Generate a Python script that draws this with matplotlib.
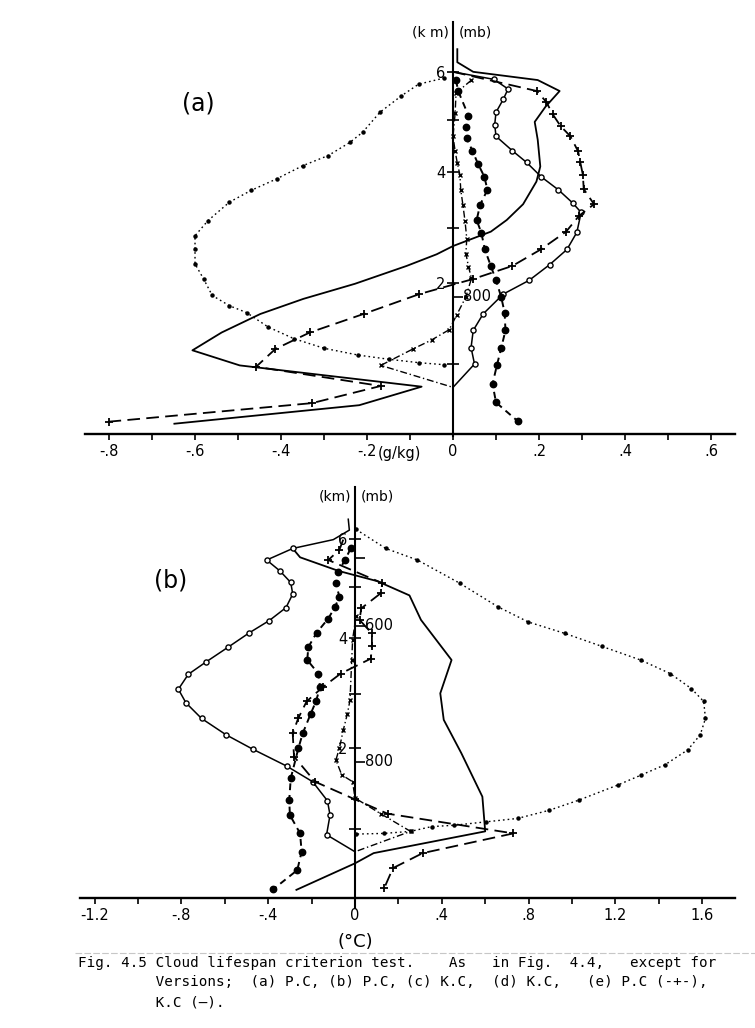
import matplotlib
matplotlib.use('Agg')
import matplotlib.pyplot as plt
from matplotlib.lines import Line2D

W, H = 755, 1028

# ---------------- panel (a): change in moisture (g/kg) against pressure (mb)
a_dot_x = [-0.02, -0.08, -0.12, -0.17, -0.21, -0.24, -0.29, -0.35, -0.41, -0.47, -0.52, -0.57, -0.60,
           -0.60, -0.60, -0.58, -0.56, -0.52, -0.48, -0.43, -0.37, -0.30, -0.22, -0.15, -0.08, -0.02]
a_dot_p = [481, 490, 507, 531, 560, 575, 594, 609, 628, 645, 662, 689, 711,
           730, 752, 774, 798, 813, 823, 844, 861, 875, 885, 891, 896, 899]

a_circ_x = [0.0, 0.095, 0.128, 0.117, 0.10, 0.097, 0.10, 0.138, 0.171, 0.205, 0.245, 0.278, 0.298,
            0.288, 0.265, 0.225, 0.177, 0.117, 0.070, 0.047, 0.042, 0.050, 0.0]
a_circ_p = [472, 483, 497, 512, 531, 549, 566, 587, 604, 625, 644, 663, 677,
            706, 731, 753, 776, 796, 825, 849, 874, 898, 932]

a_solid_x = [0.01, 0.01, 0.047, 0.197, 0.248, 0.215, 0.19, 0.197, 0.203, 0.194, 0.163, 0.125, 0.088,
             0.0, -0.038, -0.108, -0.228, -0.348, -0.448, -0.538, -0.606, -0.496, -0.073, -0.218, -0.648]
a_solid_p = [439, 458, 472, 484, 500, 523, 545, 571, 610, 632, 665, 688, 705,
             726, 738, 755, 781, 803, 825, 852, 878, 900, 931, 958, 985]

a_fill_x = [0.007, 0.012, 0.036, 0.03, 0.032, 0.045, 0.058, 0.073, 0.08, 0.063, 0.055, 0.066,
            0.074, 0.088, 0.10, 0.112, 0.12, 0.122, 0.112, 0.102, 0.092, 0.10, 0.15]
a_fill_p = [484, 500, 536, 552, 569, 587, 606, 625, 644, 666, 688, 707,
            731, 755, 776, 800, 823, 849, 875, 900, 927, 954, 981]

a_x_x = [0.043, 0.007, 0.005, 0.0, 0.005, 0.01, 0.016, 0.018, 0.023, 0.028, 0.032, 0.03, 0.036,
         0.043, 0.03, 0.009, -0.009, -0.05, -0.093, -0.168, 0.0]
a_x_p = [484, 503, 532, 566, 588, 605, 622, 644, 666, 690, 715, 737, 756,
         773, 800, 826, 848, 863, 876, 900, 932]

a_plus_x = [0.0, 0.195, 0.217, 0.232, 0.25, 0.273, 0.291, 0.296, 0.302, 0.304, 0.328, 0.293, 0.263,
            0.204, 0.138, 0.047, -0.078, -0.208, -0.333, -0.413, -0.458, -0.168, -0.328, -0.80]
a_plus_p = [472, 500, 516, 534, 551, 566, 588, 604, 622, 643, 665, 682, 705,
            731, 755, 774, 796, 825, 852, 876, 902, 930, 955, 982]

a_xticks = [-0.8, -0.7, -0.6, -0.5, -0.4, -0.3, -0.2, -0.1, 0.0, 0.1, 0.2, 0.3, 0.4, 0.5, 0.6]
a_xticklabels = ['-.8', '', '-.6', '', '-.4', '', '-.2', '', '0', '', '.2', '', '.4', '', '.6']
a_mb_ticks = [800]
a_mb_labels = ['800']

# ---------------- panel (b): change in temperature (deg C) against pressure (mb)
b_dot_x = [0.005, 0.142, 0.288, 0.482, 0.66, 0.798, 0.968, 1.138, 1.316, 1.453, 1.55, 1.607, 1.615,
           1.591, 1.534, 1.429, 1.32, 1.21, 1.032, 0.895, 0.749, 0.604, 0.458, 0.353, 0.256, 0.134, 0.005]
b_dot_p = [458, 486, 503, 537, 572, 594, 611, 630, 650, 670, 692, 711, 736,
           760, 782, 804, 819, 834, 856, 871, 883, 888, 893, 895, 902, 905, 906]

b_circ_x = [-0.031, -0.026, -0.10, -0.287, -0.407, -0.346, -0.296, -0.287, -0.318, -0.395, -0.487,
            -0.584, -0.687, -0.768, -0.814, -0.779, -0.707, -0.594, -0.472, -0.315, -0.195, -0.127,
            -0.115, -0.131, 0.0]
b_circ_p = [443, 459, 473, 486, 503, 519, 536, 553, 573, 592, 610,
            631, 653, 671, 693, 713, 736, 760, 781, 806, 829, 857,
            878, 907, 932]

b_solid_x = [-0.287, -0.253, -0.076, 0.102, 0.251, 0.304, 0.445, 0.393, 0.409, 0.49, 0.587, 0.60,
             0.086, 0.0, -0.27]
b_solid_p = [486, 499, 519, 534, 555, 591, 650, 699, 738, 787, 851, 902, 934, 949, 988]

b_fill_x = [-0.02, -0.046, -0.077, -0.088, -0.072, -0.092, -0.123, -0.177, -0.215, -0.22, -0.169,
            -0.161, -0.18, -0.204, -0.241, -0.261, -0.296, -0.303, -0.30, -0.253, -0.246, -0.266, -0.376]
b_fill_p = [486, 503, 520, 537, 557, 572, 589, 610, 631, 650, 670,
            690, 711, 729, 758, 780, 824, 856, 878, 905, 932, 959, 987]

b_x_x = [0.005, -0.011, -0.015, -0.023, -0.035, -0.054, -0.072, -0.088, -0.061, -0.011, 0.0,
         0.118, 0.256, 0.0]
b_x_p = [585, 620, 650, 709, 729, 753, 780, 797, 819, 829, 853, 876, 902, 932]

b_plus_x = [-0.054, -0.072, -0.123, 0.126, 0.118, 0.029, 0.021, 0.078, 0.078, 0.073, -0.066, -0.149,
            -0.223, -0.262, -0.287, -0.281, -0.184, 0.0, 0.15, 0.73, 0.312, 0.175, 0.134]
b_plus_p = [473, 488, 503, 537, 552, 574, 591, 611, 630, 648, 670, 690,
            711, 736, 758, 792, 829, 855, 876, 905, 934, 956, 986]

b_xticks = [-1.2, -1.0, -0.8, -0.6, -0.4, -0.2, 0.0, 0.2, 0.4, 0.6, 0.8, 1.0, 1.2, 1.4, 1.6]
b_xticklabels = ['-1.2', '', '-.8', '', '-.4', '', '0', '', '.4', '', '.8', '', '1.2', '', '1.6']
b_mb_ticks = [500, 600, 800]
b_mb_labels = ['', '600', '800']

# height (km) marks on the pressure axis
km_p = [898, 780, 700, 618, 542, 472]
km_labels = ['', '2', '', '4', '', '6']

caption = ["Fig. 4.5 Cloud lifespan criterion test.    As   in Fig.  4.4,   except for",
           "         Versions;  (a) P.C, (b) P.C, (c) K.C,  (d) K.C,   (e) P.C (-+-),",
           "         K.C (\u2014)."]

plt.rcParams['font.family'] = ['DejaVu Sans']
fig = plt.figure(figsize=(W / 100, H / 100), dpi=100)


def panel(rect, xlim, ylim, xbounds, ybounds, xticks, xticklabels, mb_ticks, mb_labels, km_text):
    l, t, r, b = rect
    ax = fig.add_axes([l / W, 1 - b / H, (r - l) / W, (b - t) / H])
    ax.set_xlim(*xlim)
    ax.set_ylim(*ylim)
    ax.patch.set_visible(False)
    for s in ['top', 'right']:
        ax.spines[s].set_visible(False)
    ax.spines['bottom'].set_position(('data', 1000))
    ax.spines['bottom'].set_bounds(*xbounds)
    ax.spines['left'].set_position(('data', 0))
    ax.spines['left'].set_bounds(*ybounds)
    ax.spines['bottom'].set_linewidth(1.7)
    ax.spines['left'].set_linewidth(1.5)
    ax.set_xticks(xticks, xticklabels)
    ax.tick_params(axis='x', direction='out', length=4.5, width=1.2, pad=3, labelsize=10.5)
    ax.set_yticks(km_p, km_labels)
    ax.tick_params(axis='y', direction='inout', length=9, width=1.2, pad=1, labelsize=10.5)
    ax.plot([0] * len(mb_ticks), mb_ticks, ls='none', marker=1, ms=7, mew=1.2, color='k', clip_on=False)
    for p, s in zip(mb_ticks, mb_labels):
        ax.annotate(s, (0, p), xytext=(7, 0), textcoords='offset points', va='center', ha='left',
                    fontsize=10.5)
    ax.annotate(km_text[0], (0, km_text[2]), xytext=(-3, 0), textcoords='offset points',
                va='center', ha='right', fontsize=10)
    ax.annotate(km_text[1], (0, km_text[2]), xytext=(4, 0), textcoords='offset points',
                va='center', ha='left', fontsize=10)
    return ax


def curves(ax, dot, circ, solid, fill, xs, plus, circ_marks):
    ax.plot(*dot, color='k', lw=1.0, ls=(0, (1.2, 2.2)), marker='o', ms=2.2)
    ax.plot(*solid, color='k', lw=1.3)
    ax.plot(*circ, color='k', lw=1.1, marker='o', ms=3.7, mfc='white', mew=1.0, markevery=circ_marks)
    ax.plot(*fill, color='k', lw=1.4, ls=(0, (3.5, 2.5)), marker='o', ms=4.6)
    ax.plot(*xs, color='k', lw=1.0, ls=(0, (5, 2, 1, 2)), marker='x', ms=3.2, mew=1.0,
            markevery=slice(0, len(xs[0]) - 1))
    ax.plot(*plus, color='k', lw=1.3, ls=(0, (7, 3.5)), marker='+', ms=5.2, mew=1.3,
            markevery=slice(1, None))


# panel (a)
ax_a = panel((60, 0, 750, 460), (-0.914, 0.6907), (1037.9, 367.3), (-0.856, 0.656), (399, 1003),
             a_xticks, a_xticklabels, a_mb_ticks, a_mb_labels, ('(k m)', '(mb)', 415))
curves(ax_a, (a_dot_x, a_dot_p), (a_circ_x, a_circ_p), (a_solid_x, a_solid_p),
       (a_fill_x, a_fill_p), (a_x_x, a_x_p), (a_plus_x, a_plus_p), slice(1, len(a_circ_x) - 1))
ax_a.text(0.2, 0.775, '(a)', transform=ax_a.transAxes, fontsize=17, ha='center', va='center')
ax_a.annotate('(g/kg)', (-0.2, 1000), xytext=(8, -14), textcoords='offset points',
              ha='left', va='center', fontsize=10.5)

# panel (b)
ax_b = panel((60, 470, 750, 925), (-1.3594, 1.8203), (1039.7, 370.6), (-1.267, 1.751), (396, 1015),
             b_xticks, b_xticklabels, b_mb_ticks, b_mb_labels, ('(km)', '(mb)', 410))
curves(ax_b, (b_dot_x, b_dot_p), (b_circ_x, b_circ_p), (b_solid_x, b_solid_p),
       (b_fill_x, b_fill_p), (b_x_x, b_x_p), (b_plus_x, b_plus_p), slice(3, len(b_circ_x) - 1))
ax_b.text(0.16, 0.758, '(b)', transform=ax_b.transAxes, fontsize=17, ha='center', va='center')
ax_b.annotate('(\u00b0C)', (0, 1000), xytext=(0, -32), textcoords='offset points',
              ha='center', va='center', fontsize=13)

# faint page edge left by the scan
fig.add_artist(Line2D([75 / W, 1.0], [1 - 953 / H, 1 - 953 / H], color='0.78', lw=0.8,
                      ls=(0, (6, 2))))

for i, line in enumerate(caption):
    fig.text(78 / W, 1 - (963 + 19.5 * i) / H, line, family='DejaVu Sans Mono', fontsize=10.3,
             va='center', ha='left')

fig.savefig('out.png', dpi=100)
